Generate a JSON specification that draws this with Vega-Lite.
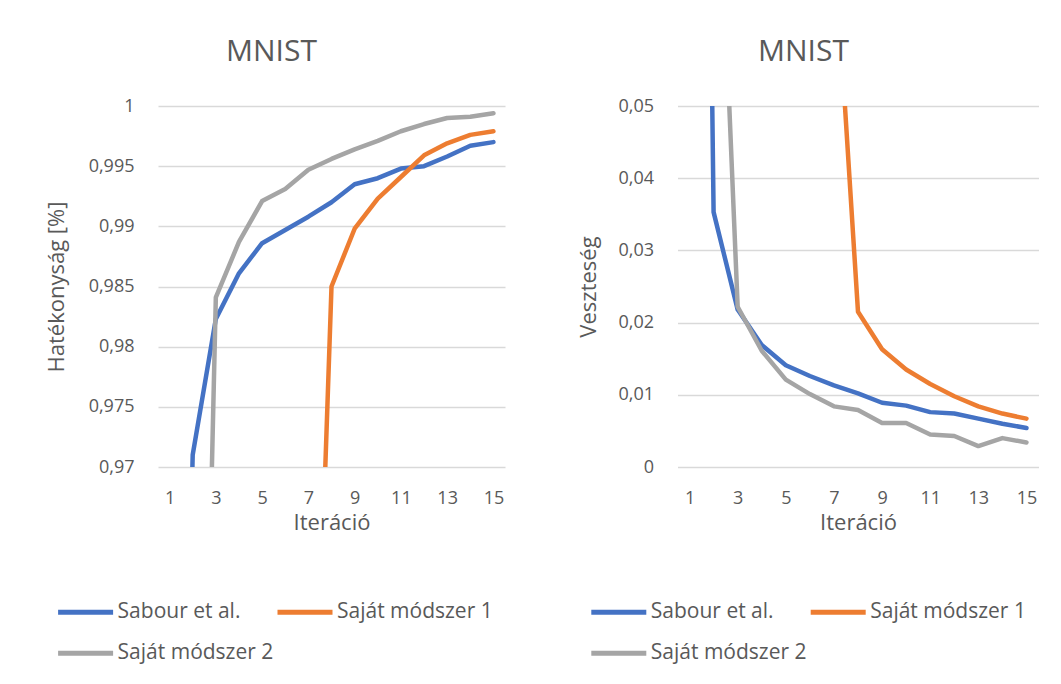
{
  "$schema": "https://vega.github.io/schema/vega-lite/v6.json",
  "background": "white",
  "padding": {"left": 45, "top": 36, "right": 0, "bottom": 0},
  "config": {
    "font": "Open Sans",
    "view": {"stroke": null},
    "axis": {
      "gridColor": "#D9D9D9", "gridWidth": 1.3, "domain": false, "ticks": false, "tickSize": 0,
      "labelColor": "#595959", "labelFontSize": 18, "labelOverlap": false,
      "titleColor": "#595959", "titleFontSize": 22, "titleFontWeight": "normal"
    },
    "legend": {
      "orient": "none", "direction": "horizontal", "columns": 2, "title": null,
      "symbolType": "stroke", "symbolSize": 3025, "symbolStrokeWidth": 5,
      "labelFontSize": 21, "labelColor": "#595959", "labelOffset": 2, "labelLimit": 400,
      "columnPadding": -6.6, "rowPadding": 1, "padding": 0
    },
    "title": {"fontSize": 30, "fontWeight": "normal", "color": "#595959", "font": "Open Sans", "anchor": "middle", "frame": "group"}
  },
  "datasets": {
    "d": [
      {"iter": 1, "series": "Sabour et al.", "acc": 0.89, "loss": 0.3},
      {"iter": 2, "series": "Sabour et al.", "acc": 0.971, "loss": 0.0353},
      {"iter": 3, "series": "Sabour et al.", "acc": 0.9823, "loss": 0.0218},
      {"iter": 4, "series": "Sabour et al.", "acc": 0.9861, "loss": 0.0169},
      {"iter": 5, "series": "Sabour et al.", "acc": 0.9886, "loss": 0.0141},
      {"iter": 6, "series": "Sabour et al.", "acc": 0.9897, "loss": 0.0126},
      {"iter": 7, "series": "Sabour et al.", "acc": 0.9908, "loss": 0.0113},
      {"iter": 8, "series": "Sabour et al.", "acc": 0.992, "loss": 0.0102},
      {"iter": 9, "series": "Sabour et al.", "acc": 0.9935, "loss": 0.0089},
      {"iter": 10, "series": "Sabour et al.", "acc": 0.994, "loss": 0.0085},
      {"iter": 11, "series": "Sabour et al.", "acc": 0.9948, "loss": 0.0076},
      {"iter": 12, "series": "Sabour et al.", "acc": 0.995, "loss": 0.0074},
      {"iter": 13, "series": "Sabour et al.", "acc": 0.9958, "loss": 0.0067},
      {"iter": 14, "series": "Sabour et al.", "acc": 0.9967, "loss": 0.006},
      {"iter": 15, "series": "Sabour et al.", "acc": 0.997, "loss": 0.0054},
      {"iter": 7, "series": "Saját módszer 1", "acc": 0.929, "loss": 0.074},
      {"iter": 8, "series": "Saját módszer 1", "acc": 0.985, "loss": 0.0215},
      {"iter": 9, "series": "Saját módszer 1", "acc": 0.9898, "loss": 0.0163},
      {"iter": 10, "series": "Saját módszer 1", "acc": 0.9923, "loss": 0.0135},
      {"iter": 11, "series": "Saját módszer 1", "acc": 0.9941, "loss": 0.0115},
      {"iter": 12, "series": "Saját módszer 1", "acc": 0.9959, "loss": 0.0098},
      {"iter": 13, "series": "Saját módszer 1", "acc": 0.9969, "loss": 0.0084},
      {"iter": 14, "series": "Saját módszer 1", "acc": 0.9976, "loss": 0.0074},
      {"iter": 15, "series": "Saját módszer 1", "acc": 0.9979, "loss": 0.0067},
      {"iter": 2, "series": "Saját módszer 2", "acc": 0.901, "loss": 0.102},
      {"iter": 3, "series": "Saját módszer 2", "acc": 0.9841, "loss": 0.0222},
      {"iter": 4, "series": "Saját módszer 2", "acc": 0.9887, "loss": 0.0161},
      {"iter": 5, "series": "Saját módszer 2", "acc": 0.9921, "loss": 0.0121},
      {"iter": 6, "series": "Saját módszer 2", "acc": 0.9931, "loss": 0.0101},
      {"iter": 7, "series": "Saját módszer 2", "acc": 0.9947, "loss": 0.0084},
      {"iter": 8, "series": "Saját módszer 2", "acc": 0.9956, "loss": 0.0079},
      {"iter": 9, "series": "Saját módszer 2", "acc": 0.9964, "loss": 0.0061},
      {"iter": 10, "series": "Saját módszer 2", "acc": 0.9971, "loss": 0.0061},
      {"iter": 11, "series": "Saját módszer 2", "acc": 0.9979, "loss": 0.0045},
      {"iter": 12, "series": "Saját módszer 2", "acc": 0.9985, "loss": 0.0043},
      {"iter": 13, "series": "Saját módszer 2", "acc": 0.999, "loss": 0.0029},
      {"iter": 14, "series": "Saját módszer 2", "acc": 0.9991, "loss": 0.004},
      {"iter": 15, "series": "Saját módszer 2", "acc": 0.9994, "loss": 0.0034}
    ]
  },
  "bounds": "flush",
  "spacing": 172.5,
  "resolve": {"legend": {"color": "independent"}},
  "hconcat": [
    {
      "data": {"name": "d"},
      "width": 347,
      "height": 361,
      "title": {"text": "MNIST", "dx": -60, "offset": 30.4},
      "mark": {"type": "line", "clip": true, "strokeWidth": 4.5, "strokeCap": "round", "strokeJoin": "round"},
      "encoding": {
        "x": {"field": "iter", "type": "quantitative",
              "scale": {"domain": [0.5, 15.5], "nice": false, "zero": false},
              "axis": {"values": [1, 3, 5, 7, 9, 11, 13, 15], "grid": false, "title": "Iteráció", "labelPadding": 22, "titlePadding": 5, "labelFlush": false}},
        "y": {"field": "acc", "type": "quantitative",
              "scale": {"domain": [0.97, 1], "nice": false, "zero": false},
              "axis": {"values": [0.97, 0.975, 0.98, 0.985, 0.99, 0.995, 1], "format": "~g", "labelExpr": "replace(datum.label, '.', ',')", "title": "Hatékonyság [%]", "labelPadding": 24, "titlePadding": 19.5}},
        "color": {"field": "series", "type": "nominal",
                  "scale": {"domain": ["Sabour et al.", "Saját módszer 1", "Saját módszer 2"], "range": ["#4472C4", "#ED7D31", "#A5A5A5"]},
                  "legend": {"legendX": -102.4, "legendY": 476.3}}
      }
    },
    {
      "data": {"name": "d"},
      "width": 361,
      "height": 361,
      "title": {"text": "MNIST", "dx": -54.5, "offset": 30.4},
      "mark": {"type": "line", "clip": true, "strokeWidth": 4.5, "strokeCap": "round", "strokeJoin": "round"},
      "encoding": {
        "x": {"field": "iter", "type": "quantitative",
              "scale": {"domain": [0.5, 15.5], "nice": false, "zero": false},
              "axis": {"values": [1, 3, 5, 7, 9, 11, 13, 15], "grid": false, "title": "Iteráció", "labelPadding": 22, "titlePadding": 5, "labelFlush": false}},
        "y": {"field": "loss", "type": "quantitative",
              "scale": {"domain": [0, 0.05], "nice": false, "zero": false},
              "axis": {"values": [0, 0.01, 0.02, 0.03, 0.04, 0.05], "format": "~g", "labelExpr": "replace(datum.label, '.', ',')", "title": "Veszteség", "labelPadding": 24, "titlePadding": 17}},
        "color": {"field": "series", "type": "nominal",
                  "scale": {"domain": ["Sabour et al.", "Saját módszer 1", "Saját módszer 2"], "range": ["#4472C4", "#ED7D31", "#A5A5A5"]},
                  "legend": {"legendX": -88.7, "legendY": 476.3}}
      }
    }
  ]
}
